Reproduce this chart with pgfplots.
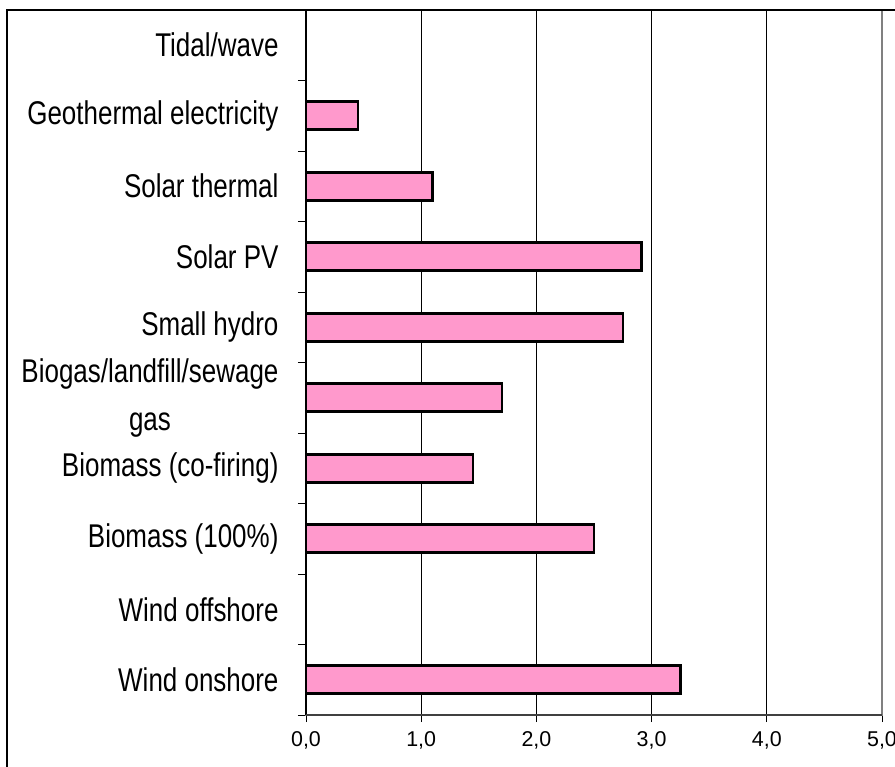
\documentclass[border=0pt]{standalone}
\usepackage{pgfplots}
\pgfplotsset{compat=1.18}
\usepackage{fontspec}
\setmainfont{Liberation Sans}[FakeStretch=0.79]
\newfontfamily\tickfont{Liberation Sans}
\definecolor{barpink}{HTML}{FF99CC}
\begin{document}
\begin{tikzpicture}
\useasboundingbox (-306bp,-52bp) rectangle (589bp,715bp);
\begin{axis}[
  at={(0,0)}, anchor=south west,
  scale only axis,
  width=576bp, height=705bp,
  xbar, bar width=28bp,
  xmin=0, xmax=5, ymin=-0.5, ymax=9.5,
  xtick={0,1,2,3,4,5},
  xmajorgrids, grid style={black, line width=0.8pt},
  axis line style={draw=black!50, line width=1.2pt},
  tick align=outside, tick pos=left,
  major tick length=7bp,
  xtick style={black, line width=0.8pt},
  xticklabel={\tickfont\fontsize{21.5}{24}\selectfont\pgfmathprintnumber{\tick}},
  xticklabel style={yshift=-6bp},
  /pgf/number format/.cd, fixed, fixed zerofill, precision=1, use comma, assume math mode=true,
  /pgfplots/.cd,
  ytick={0,...,9},
  yticklabels={Wind onshore, Wind offshore, Biomass (100\%), Biomass (co-firing), {Biogas/landfill/sewage\\gas}, Small hydro, Solar PV, Solar thermal, Geothermal electricity, Tidal/wave},
  yticklabel style={font=\fontsize{33}{48}\selectfont, align=center, anchor=east, xshift=-17bp},
  major y tick style={draw=none},
  minor ytick={-0.5,0.5,...,9.5},
  minor tick length=8bp,
  minor y tick style={black, line width=0.8pt},
  clip=false,
]
\addplot[fill=barpink, draw=black, line width=2.6pt] coordinates {
(3.25,0) (0,1) (2.50,2) (1.45,3) (1.70,4) (2.75,5) (2.91,6) (1.10,7) (0.45,8) (0,9)
};
\draw[black, line width=1.2pt] (rel axis cs:0,0) -- (rel axis cs:0,1);
\draw[black!75, line width=1.2pt] (rel axis cs:0,0) -- (rel axis cs:1,0);
\end{axis}
\draw[black, line width=1.2pt] (-299bp,-60bp) -- (-299bp,705bp) -- (600bp,705bp);
\end{tikzpicture}
\end{document}
